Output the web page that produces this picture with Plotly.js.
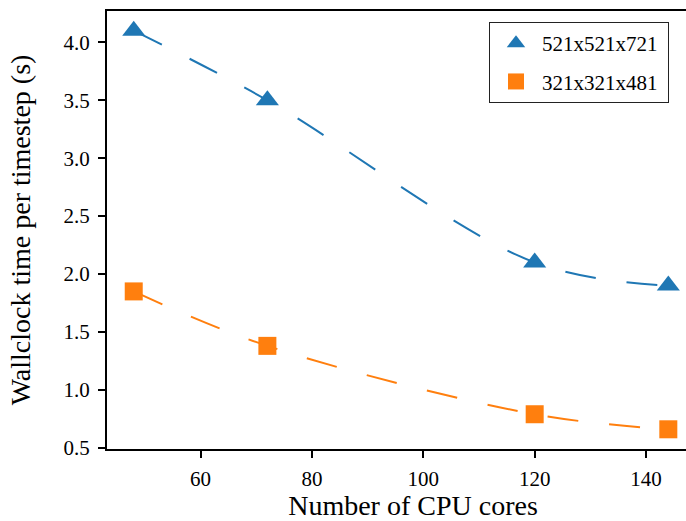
<!DOCTYPE html>
<html>
<head>
<meta charset="utf-8">
<script src="https://cdn.plot.ly/plotly-3.0.1.min.js"></script>
<style>
html, body { margin: 0; padding: 0; overflow: hidden; background: #fff; }
#chart { width: 725px; height: 521px; }
</style>
</head>
<body>
<div id="chart"></div>
<script>
const cores = [48, 72, 120, 144];
const timeLarge = [4.10, 3.50, 2.10, 1.90];
const timeSmall = [1.85, 1.38, 0.79, 0.66];
const seriesNames = ['521x521x721', '321x321x481'];
const colors = ['#1f77b4', '#ff7f0e'];
const symbols = ['triangle-up', 'square'];
const series = [timeLarge, timeSmall];

const FONT = 'Liberation Serif';
const traces = [];
series.forEach((ys, i) => {
  traces.push({
    x: cores, y: ys, mode: 'lines', showlegend: false, hoverinfo: 'skip',
    line: {color: colors[i], width: 2, dash: '31px,31px', shape: 'spline', smoothing: 1}
  });
});
series.forEach((ys, i) => {
  traces.push({
    x: cores, y: ys, mode: 'markers', name: seriesNames[i] + '\u00a0',
    legendgroup: 'g' + i,
    marker: {color: colors[i], symbol: symbols[i], size: i === 0 ? 20 : 18, line: {width: 0}}
  });
});

const layout = {
  width: 725, height: 521,
  margin: {l: 107, r: 6, t: 11, b: 72, autoexpand: false},
  paper_bgcolor: '#fff', plot_bgcolor: '#fff',
  font: {family: FONT, color: '#000', size: 21},
  showlegend: true,
  legend: {
    xref: 'container', yref: 'container',
    x: 489/725, y: 1 - 22/521, xanchor: 'left', yanchor: 'top',
    bgcolor: '#fff', bordercolor: '#222', borderwidth: 1,
    font: {family: FONT, size: 21, color: '#000'},
    traceorder: 'grouped', tracegroupgap: 8, itemwidth: 42
  },
  xaxis: {
    range: [43.2, 153.1],
    tickmode: 'array',
    tickvals: [60, 80, 100, 120, 140],
    ticktext: ['60', '80', '100', '120', '140'],
    ticks: 'outside', ticklen: 7, tickwidth: 2, tickcolor: '#000',
    ticklabelstandoff: 3,
    showline: true, linewidth: 2, linecolor: '#000', mirror: true,
    showgrid: false, zeroline: false,
    tickfont: {family: FONT, size: 21, color: '#000'},
    title: {text: 'Number of CPU cores', font: {family: FONT, size: 28}, standoff: 19}
  },
  yaxis: {
    range: [0.49, 4.27],
    tickmode: 'array',
    tickvals: [0.5, 1.0, 1.5, 2.0, 2.5, 3.0, 3.5, 4.0],
    ticktext: ['0.5', '1.0', '1.5', '2.0', '2.5', '3.0', '3.5', '4.0'],
    ticks: 'outside', ticklen: 7, tickwidth: 2, tickcolor: '#000',
    ticklabelstandoff: 4,
    showline: true, linewidth: 2, linecolor: '#000', mirror: true,
    showgrid: false, zeroline: false,
    tickfont: {family: FONT, size: 21, color: '#000'},
    title: {text: 'Wallclock time per timestep (s)', font: {family: FONT, size: 28}, standoff: 25}
  }
};

Plotly.newPlot('chart', traces, layout, {displayModeBar: false, staticPlot: true});
</script>
</body>
</html>
